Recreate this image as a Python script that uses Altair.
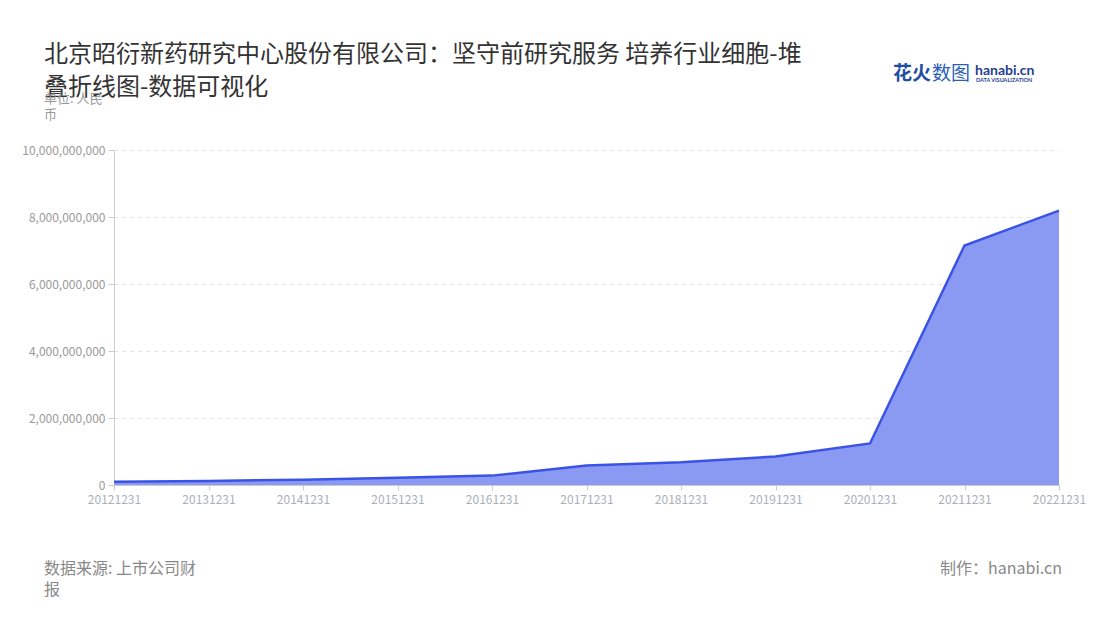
import altair as alt
import pandas as pd

dates = ["20121231", "20131231", "20141231", "20151231", "20161231", "20171231",
         "20181231", "20191231", "20201231", "20211231", "20221231"]
values = [100000000, 120000000, 160000000, 220000000, 280000000, 580000000,
          680000000, 850000000, 1240000000, 7150000000, 8190000000]

title_lines = ["北京昭衍新药研究中心股份有限公司：坚守前研究服务 培养行业细胞-堆", "叠折线图-数据可视化"]
unit_lines = ["单位: 人民", "币"]
source_lines = ["数据来源: 上市公司财", "报"]
maker = "制作：hanabi.cn"

df = pd.DataFrame({"date": dates, "value": values})

FONT = "Noto Sans CJK SC"

x_enc = alt.X("date:N", sort=dates, title=None,
              scale=alt.Scale(type="point", padding=0),
              axis=alt.Axis(labelAngle=0, labelColor="#aab0bb", labelFontSize=12, labelFont=FONT,
                            tickColor="#cccccc", domainColor="#cccccc", tickSize=5, labelPadding=4,
                            grid=False))
y_enc = alt.Y("value:Q", title=None,
              scale=alt.Scale(domain=[0, 10000000000]),
              axis=alt.Axis(values=[0, 2000000000, 4000000000, 6000000000, 8000000000, 10000000000],
                            format=",d", labelColor="#999999", labelFontSize=12, labelFont=FONT,
                            tickColor="#cccccc", domainColor="#cccccc", tickSize=6,
                            gridColor="#e3e3e3", gridDash=[4, 4], labelPadding=3))

area = alt.Chart(df).mark_area(color="#8a99f2", opacity=1, line={"color": "#3a53e6", "strokeWidth": 2.5}).encode(
    x=x_enc, y=y_enc)

def txt(text, x, y, size, color, align="left", weight="normal", font=FONT):
    return alt.Chart(pd.DataFrame({"t": [text]})).mark_text(
        align=align, baseline="alphabetic", fontSize=size, color=color, fontWeight=weight, font=font
    ).encode(text="t:N", x=alt.value(x), y=alt.value(y))

texts = [
    txt(title_lines[0], -70, -88, 24, "#333333"),
    txt(title_lines[1], -70, -55, 24, "#333333"),
    txt(unit_lines[0], -70, -47, 13, "#999999"),
    txt(unit_lines[1], -70, -31, 13, "#999999"),
    txt(source_lines[0], -70, 424, 16, "#888888"),
    txt(source_lines[1], -70, 445, 16, "#888888"),
    txt(maker, 948, 424, 16, "#888888", align="right"),
    txt("花火", 779, -70, 19, "#1f4ea3", weight="bold"),
    txt("数图", 818, -70, 19, "#2a5db5"),
    txt("hanabi.cn", 861, -75, 14, "#1f3f8f", weight="bold", font="Lato"),
    txt("DATA VISUALIZATION", 862, -68, 5.5, "#1f3f8f", weight="bold", font="Lato"),
]

chart = alt.layer(area, *texts).properties(
    width=945, height=335,
    autosize=alt.AutoSizeParams(type="none"),
    padding={"left": 106, "top": 142, "right": 33, "bottom": 127},
    background="white",
).configure_view(stroke=None)

chart.save("out.html", embed_options={"renderer": "svg", "actions": False})
